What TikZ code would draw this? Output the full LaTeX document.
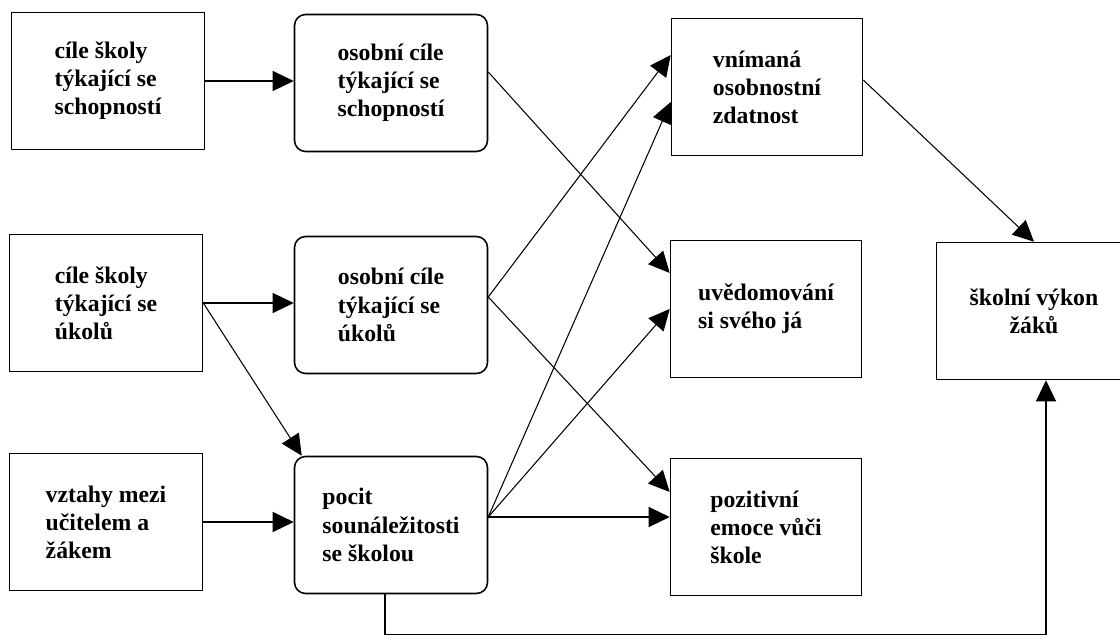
\documentclass[tikz,border=0pt]{standalone}
\usepackage{fontspec}
\setmainfont{Liberation Serif}
\usetikzlibrary{arrows.meta}

\tikzset{
  goal/.style={draw, line width=0.9pt, minimum width=3.86cm, minimum height=2.74cm,
    align=left, font=\fontsize{13.5}{16}\selectfont\bfseries},
  pers/.style={goal, rounded corners=0.22cm},
  arr/.style={line width=0.6pt, -{Triangle[length=0.42cm,width=0.4cm]}}
}

\begin{document}
\begin{tikzpicture}[x=0.02cm, y=-0.02cm]
\useasboundingbox (0,0) rectangle (1120,635);
\clip (0,0) rectangle (1120,635);

% School goals (left column)
\node[goal] (skolaSchop) at (108,81) {cíle školy\\týkající se\\schopností};
\node[goal] (skolaUkol) at (106,303) {cíle školy\\týkající se\\úkolů};
\node[goal] (vztahy) at (106,522) {vztahy mezi\\učitelem a\\žákem};
% Personal goals and belonging
\node[pers] (osobSchop) at (391,83) {osobní cíle\\týkající se\\schopností};
\node[pers] (osobUkol) at (391,305) {osobní cíle\\týkající se\\úkolů};
\node[pers] (pocit) at (391,525) {pocit\\sounáležitosti\\se školou};
% Outcomes
\node[goal, minimum width=3.82cm] (zdatnost) at (767,87) {vnímaná\\osobnostní\\zdatnost};
\node[goal, minimum width=3.82cm] (ja) at (766,309) {uvědomování\\si svého já};
\node[goal, minimum width=3.82cm] (emoce) at (766,527) {pozitivní\\emoce vůči\\škole};
\node[goal, align=center, minimum width=3.9cm] (vykon) at (1034,311) {školní výkon\\žáků};

% Exit points
\coordinate (schopOut) at ([yshift=0.22cm]osobSchop.east);
\coordinate (ukolOut) at ([yshift=0.16cm]osobUkol.east);
\coordinate (pocitOut) at ([yshift=0.16cm]pocit.east);

% Left to middle
\draw[arr] (skolaSchop.east) -- (skolaSchop.east -| osobSchop.west);
\draw[arr] (skolaUkol.east) -- (skolaUkol.east -| osobUkol.west);
\draw[arr] (vztahy.east) -- (vztahy.east -| pocit.west);
\draw[arr] (skolaUkol.east) -- ([xshift=0.16cm]pocit.north west);
% Middle to outcomes
\draw[arr] (schopOut) -- ([yshift=0.72cm]ja.west);
\draw[arr] (ukolOut) -- ([yshift=0.64cm]zdatnost.west);
\draw[arr] (ukolOut) -- ([yshift=0.7cm]emoce.west);
\draw[arr] (pocitOut) -- ([yshift=-0.3cm]zdatnost.west);
\draw[arr] (pocitOut) -- (ja.west);
\draw[arr] (pocitOut) -- (pocitOut -| emoce.west);
% To school performance
\draw[arr] ([yshift=0.14cm]zdatnost.east) -- (vykon.north);
\draw[arr] ([xshift=-0.12cm]pocit.south) -- ++(0,40) -| ([xshift=0.24cm]vykon.south);

\end{tikzpicture}
\end{document}
